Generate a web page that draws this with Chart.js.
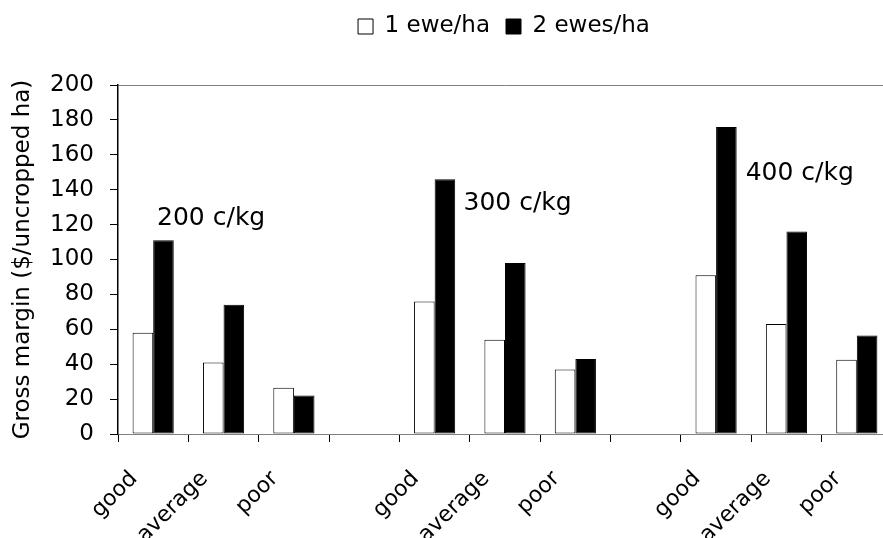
<!DOCTYPE html>
<html>
<head>
<meta charset="utf-8">
<script src="https://cdn.jsdelivr.net/npm/chart.js@4"></script>
<style>
  html, body { margin: 0; padding: 0; background: #fff; overflow: hidden; }
  #wrap { width: 892px; height: 538px; position: relative; }
</style>
</head>
<body>
<div id="wrap"><canvas id="gmChart"></canvas></div>
<script>
// data
const categories = ['good', 'average', 'poor', '', 'good', 'average', 'poor', '', 'good', 'average', 'poor'];
const oneEwe = [58, 41, 26.5, null, 76, 54, 37, null, 91, 63, 42.5];
const twoEwes = [111, 74, 22, null, 146, 98, 43, null, 176, 116, 56.5];
const seriesNames = ['1 ewe/ha', '2 ewes/ha'];
const priceLabels = ['200 c/kg', '300 c/kg', '400 c/kg'];
const priceLabelX = [0.055, 4.41, 8.42];   // category index (fractional)
const priceLabelY = [119.5, 128.5, 145.5]; // baseline in axis units
const yMin = 0, yMax = 200, yStep = 20;

Chart.defaults.font.family = "'DejaVu Sans', Verdana, sans-serif";
Chart.defaults.color = '#000';

// writes the price labels next to each group
const priceLabelPlugin = {
    id: 'priceLabels',
    afterDatasetsDraw(chart) {
        const ctx = chart.ctx;
        const x = chart.scales.x, y = chart.scales.y;
        ctx.save();
        ctx.font = "25px 'DejaVu Sans', Verdana, sans-serif";
        ctx.fillStyle = '#000';
        ctx.textAlign = 'left';
        ctx.textBaseline = 'alphabetic';
        priceLabels.forEach((t, i) => {
            ctx.fillText(t, x.getPixelForValue(priceLabelX[i]), y.getPixelForValue(priceLabelY[i]));
        });
        ctx.restore();
    }
};

// legend in the reference sits right of centre and close to the top
const legendShiftX = 58;
const legendShiftY = -5;
const legendShiftPlugin = {
    id: 'legendShift',
    afterLayout(chart) {
        const lg = chart.legend;
        if (lg) {
            lg.left += legendShiftX;
            lg.right += legendShiftX;
            lg.top += legendShiftY;
            lg.bottom += legendShiftY;
        }
    }
};

const ctx = document.getElementById('gmChart').getContext('2d');
new Chart(ctx, {
    type: 'bar',
    data: {
        labels: categories,
        datasets: [
            {
                label: seriesNames[0],
                data: oneEwe,
                backgroundColor: '#fff',
                borderColor: '#000',
                borderWidth: 1,
                borderSkipped: false
            },
            {
                label: seriesNames[1],
                data: twoEwes,
                backgroundColor: '#000',
                borderColor: '#000',
                borderWidth: 1,
                borderSkipped: false
            }
        ]
    },
    options: {
        responsive: true,
        maintainAspectRatio: false,
        animation: false,
        layout: { padding: { top: 4, left: 0, right: 0, bottom: 0 } },
        datasets: {
            bar: { categoryPercentage: 0.585, barPercentage: 1.0 }
        },
        plugins: {
            legend: {
                position: 'top',
                labels: {
                    boxWidth: 15,
                    boxHeight: 15,
                    padding: 16,
                    font: { size: 23 }
                }
            },
            subtitle: {
                display: true,
                text: '',
                weight: 500,
                font: { size: 12 },
                padding: { top: 0, bottom: 17.6 }
            },
            tooltip: { enabled: false }
        },
        scales: {
            x: {
                // rotated labels must not squeeze the plot sideways
                afterFit: s => { s.height = 104; s.paddingLeft = 0; s.paddingRight = 0; },
                grid: {
                    drawOnChartArea: false,
                    drawTicks: true,
                    tickLength: 8,
                    tickColor: '#000',
                    offset: true
                },
                border: { color: '#808080', width: 1 },
                ticks: {
                    autoSkip: false,
                    minRotation: 45,
                    maxRotation: 45,
                    labelOffset: -19,
                    padding: 24,
                    font: { size: 22 }
                }
            },
            y: {
                min: yMin,
                max: yMax,
                afterFit: s => { s.width = 118; },
                grid: {
                    drawOnChartArea: true,
                    color: c => (c.tick && c.tick.value === yMax ? '#808080' : 'rgba(0,0,0,0)'),
                    tickColor: '#000',
                    tickLength: 8
                },
                border: { color: '#000', width: 1.5 },
                ticks: {
                    stepSize: yStep,
                    padding: 16,
                    font: { size: 23 }
                },
                title: {
                    display: true,
                    text: 'Gross margin ($/uncropped ha)',
                    font: { size: 23 },
                    padding: { top: 9, bottom: 0 }
                }
            }
        }
    },
    plugins: [priceLabelPlugin, legendShiftPlugin]
});
</script>
</body>
</html>
